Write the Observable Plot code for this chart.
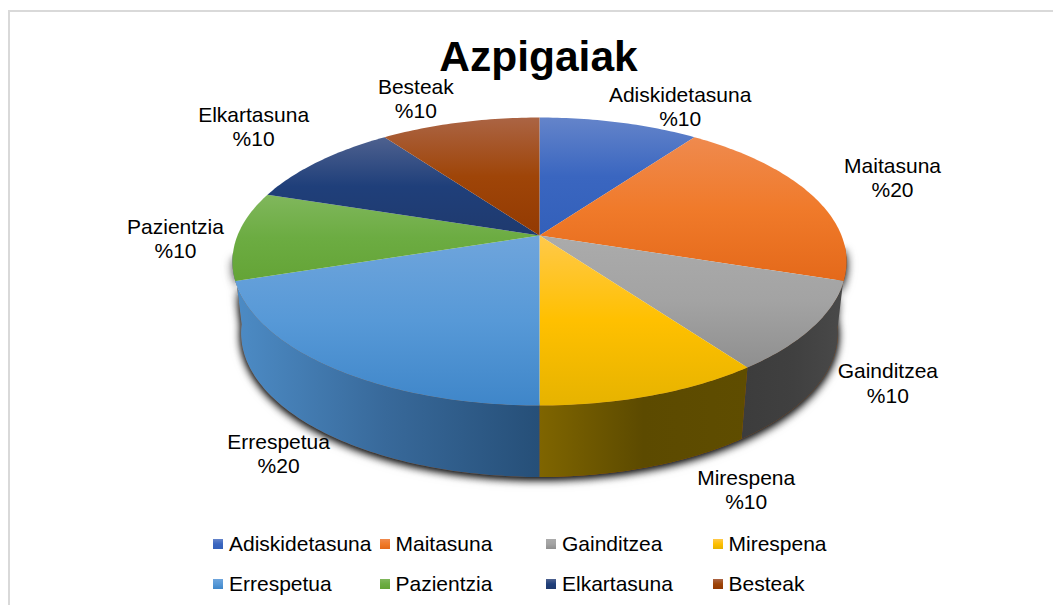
<!DOCTYPE html>
<html>
<head>
<meta charset="utf-8">
<script src="https://cdn.jsdelivr.net/npm/d3@7"></script>
<script src="https://cdn.jsdelivr.net/npm/@observablehq/plot@0.6"></script>
<style>
  html, body { margin: 0; padding: 0; background: #fff; }
  #chart { position: relative; width: 1053px; height: 605px; overflow: hidden; font-family: "Liberation Sans", Arial, sans-serif; color: #000; }
  #frame { position: absolute; left: 8px; top: 10px; right: 0; bottom: 0; border-top: 2px solid #d9d9d9; border-left: 2px solid #d9d9d9; }
  #title { position: absolute; left: 0; width: 1077px; top: 33px; text-align: center; font-size: 42.5px; line-height: 48px; font-weight: bold; }
  #plot { position: absolute; left: 0; top: 78px; }
  #plot svg { display: block; overflow: visible; }
  #legend { position: absolute; left: 213px; top: 524px; display: grid; grid-template-columns: repeat(4, 166.5px); grid-auto-rows: 40px; font-size: 21px; line-height: 40px; }
  #legend .item { white-space: nowrap; display: flex; align-items: center; }
  #legend .sw { width: 10px; height: 10px; margin-right: 6px; flex: none; }
</style>
</head>
<body>
<div id="chart">
  <div id="frame"></div>
  <div id="title"></div>
  <div id="plot"></div>
  <div id="legend"></div>
</div>
<script>
// ---- data ----
const chartTitle = "Azpigaiak";
const names = ["Adiskidetasuna", "Maitasuna", "Gainditzea", "Mirespena", "Errespetua", "Pazientzia", "Elkartasuna", "Besteak"];
const values = [10, 20, 10, 10, 20, 10, 10, 10];

// ---- styles (light top, base, darker bottom of each top face) ----
const topStops = [
  ["#6484ca", "#3a66c0", "#3360ba"],
  ["#ef8a4e", "#f07a2a", "#e4691a"],
  ["#ababab", "#a3a3a3", "#8f8f8f"],
  ["#ffc94a", "#ffc000", "#e6b300"],
  ["#6fa5dc", "#5799d7", "#3f86c9"],
  ["#80b75c", "#6cac42", "#64a436"],
  ["#4e618f", "#1f3f7a", "#1f3a6e"],
  ["#ab6444", "#9f4508", "#933a02"]
];
const wallStops = [
  ["#3c3c3c", "#404040", "#4a4a4a"],
  ["#7f6500", "#5c4a00", "#5f4d00"],
  ["#4d8cc6", "#38699a", "#264f78"]
];
// side walls: slice index, and how far the wall runs past the slice's edge to reach the drum's outline
const wallSlices = [2, 3, 4];
const wallStretch = [[-10, 0], [0, 0], [0, 11]];
// screen offset of each data label from the rim at the middle of its slice
const labelOffsets = [[61, -16.5], [81, -17.5], [75, 55.5], [94, 93.5], [-53, 85.5], [-62, 2.5], [-65, -35.5], [-44, -24.5]];

// ---- geometry: a circle seen in perspective ----
const view = {cx: 539, cy: 235, a: 302, b: 139.3, k: -0.1806};
const base = {cy: 306.5, sx: 0.972};
const total = d3.sum(values);
const cumul = d3.cumsum(values);
const startDeg = i => (i === 0 ? 0 : cumul[i - 1]) / total * 360;
const endDeg = i => cumul[i] / total * 360;
const project = (deg, bottom = false) => {
  const t = deg * Math.PI / 180, u = Math.sin(t), v = -Math.cos(t), d = 1 + view.k * v;
  return bottom
    ? {x: view.cx + base.sx * view.a * u / d, y: base.cy + view.b * v / d}
    : {x: view.cx + view.a * u / d, y: view.cy + view.b * v / d};
};
const arc = (a, b, bottom = false) => {
  const n = Math.max(2, Math.ceil(Math.abs(b - a)));
  return d3.range(n + 1).map(j => project(a + (b - a) * j / n, bottom));
};
const sliceTop = i => [{x: view.cx, y: view.cy}, ...arc(startDeg(i), endDeg(i))];
const wallPoly = (a, b) => [...arc(a, b), ...arc(b, a, true)];

const marks = [];
// soft shadow below the drum, with a hairline of the neighbouring slice's colour at the right
marks.push(Plot.line(wallPoly(94, 263), {
  x: "x", y: "y", fill: "#a85414", stroke: "none",
  imageFilter: "drop-shadow(0px 2px 4px rgba(0,0,0,0.9)) drop-shadow(0px 1px 2px rgba(0,0,0,0.6))"
}));
// side walls
wallSlices.forEach((s, w) => {
  const a = startDeg(s) + wallStretch[w][0], b = endDeg(s) + wallStretch[w][1];
  marks.push(Plot.line(wallPoly(a, b), {x: "x", y: "y", fill: `url(#wall${w})`, stroke: "none"}));
});
// top faces
names.forEach((n, i) => {
  marks.push(Plot.line(sliceTop(i), {x: "x", y: "y", fill: `url(#top${i})`, stroke: "none"}));
});
// data labels
const labels = names.map((n, i) => {
  const p = project((startDeg(i) + endDeg(i)) / 2);
  return {x: p.x + labelOffsets[i][0], y: p.y + labelOffsets[i][1], text: `${n}\n%${values[i]}`};
});
marks.push(Plot.text(labels, {
  x: "x", y: "y", text: "text", fontSize: 21, lineHeight: 1.167, fill: "#000",
  fontFamily: "'Liberation Sans', Arial, sans-serif", textAnchor: "middle", lineAnchor: "middle"
}));

const plot = Plot.plot({
  width: 1053, height: 447,
  margin: 0,
  x: {domain: [0, 1053], range: [0, 1053], axis: null},
  y: {domain: [78, 525], range: [0, 447], axis: null},
  style: {background: "transparent", overflow: "visible"},
  marks
});

// gradients
const defs = d3.select(plot).append("defs");
const addGrad = (id, stops, horizontal) => {
  const g = defs.append("linearGradient").attr("id", id)
    .attr("x1", 0).attr("y1", 0).attr("x2", horizontal ? 1 : 0).attr("y2", horizontal ? 0 : 1);
  stops.forEach((c, j) => g.append("stop").attr("offset", j / (stops.length - 1)).attr("stop-color", c));
};
topStops.forEach((s, i) => addGrad(`top${i}`, s, false));
wallStops.forEach((s, i) => addGrad(`wall${i}`, s, true));

document.getElementById("plot").appendChild(plot);
document.getElementById("title").textContent = chartTitle;

// legend
const legend = d3.select("#legend");
names.forEach((n, i) => {
  const it = legend.append("div").attr("class", "item");
  it.append("span").attr("class", "sw")
    .style("background", `linear-gradient(${topStops[i][0]}, ${topStops[i][1]} 50%, ${topStops[i][2]})`);
  it.append("span").text(n);
});
</script>
</body>
</html>
